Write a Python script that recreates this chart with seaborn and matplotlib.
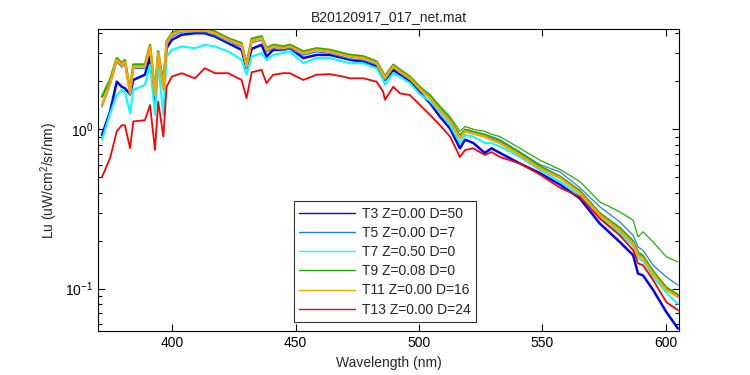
import numpy as np
import pandas as pd
import matplotlib
matplotlib.use("Agg")
import matplotlib.pyplot as plt
from matplotlib.lines import Line2D
import seaborn as sns

wl = [371.5, 374.8, 377.5, 379.5, 380.8, 382.9, 384.2, 388.9, 391.0, 393.0,
      394.3, 396.4, 397.7, 399.8, 403.8, 409.2, 413.2, 417.3, 422.7, 428.1,
      430.1, 432.2, 436.2, 438.2, 440.9, 445.0, 447.7, 453.1, 458.5, 463.9,
      469.3, 472.0, 477.4, 482.8, 485.5, 486.2, 489.6, 492.3, 496.3, 500.4,
      504.5, 508.5, 512.6, 516.6, 518.7, 522.0, 526.7, 529.4, 532.8, 540.9,
      549.0, 557.1, 565.2, 573.3, 581.4, 586.8, 588.8, 590.8, 594.9, 600.3,
      605.0]

t3 = [0.92, 1.29, 1.99, 1.85, 1.81, 1.66, 2.04, 2.20, 2.86, 1.42,
      2.86, 1.95, 3.23, 3.64, 3.92, 4.01, 4.01, 3.83, 3.47, 3.15,
      2.42, 3.20, 3.39, 2.86, 3.15, 3.15, 3.23, 2.80, 2.93, 2.93,
      2.80, 2.73, 2.66, 2.48, 2.14, 2.04, 2.36, 2.20, 1.99, 1.70,
      1.46, 1.20, 1.01, 0.76, 0.86, 0.82, 0.71, 0.76, 0.71, 0.61,
      0.53, 0.45, 0.368, 0.256, 0.196, 0.162, 0.124, 0.121, 0.098, 0.071,
      0.056]

t5 = [1.38, 1.89, 2.65, 2.46, 2.58, 1.63, 2.41, 2.41, 3.21, 1.59,
      2.92, 1.76, 3.37, 3.80, 4.08, 4.08, 4.08, 3.89, 3.53, 3.29,
      2.41, 3.49, 3.63, 3.06, 3.21, 3.13, 3.21, 2.92, 3.06, 2.99,
      2.84, 2.77, 2.72, 2.55, 2.16, 2.05, 2.43, 2.25, 2.05, 1.82,
      1.62, 1.36, 1.16, 0.92, 1.00, 0.97, 0.93, 0.90, 0.86, 0.72,
      0.60, 0.54, 0.43, 0.326, 0.262, 0.216, 0.182, 0.174, 0.140, 0.118,
      0.105]

t7 = [0.86, 1.26, 1.64, 1.77, 1.72, 1.26, 1.77, 1.90, 2.54, 1.23,
      2.54, 1.23, 2.86, 3.15, 3.31, 3.23, 3.39, 3.31, 3.08, 2.73,
      2.20, 2.86, 3.01, 2.73, 2.93, 3.01, 3.08, 2.60, 2.80, 2.80,
      2.66, 2.60, 2.60, 2.42, 2.04, 1.90, 2.25, 2.14, 1.95, 1.66,
      1.50, 1.28, 1.06, 0.82, 0.92, 0.90, 0.82, 0.82, 0.78, 0.67,
      0.555, 0.47, 0.385, 0.28, 0.225, 0.184, 0.155, 0.149, 0.118, 0.094,
      0.080]

t9 = [1.60, 2.05, 2.80, 2.60, 2.72, 1.74, 2.55, 2.55, 3.38, 1.70,
      3.08, 1.87, 3.55, 4.00, 4.30, 4.30, 4.30, 4.10, 3.72, 3.47,
      2.55, 3.70, 3.83, 3.22, 3.39, 3.31, 3.39, 3.08, 3.22, 3.15,
      3.00, 2.93, 2.87, 2.66, 2.25, 2.14, 2.54, 2.36, 2.14, 1.83,
      1.60, 1.35, 1.14, 0.90, 0.99, 0.96, 0.92, 0.88, 0.84, 0.71,
      0.585, 0.505, 0.41, 0.296, 0.240, 0.198, 0.168, 0.160, 0.128, 0.101,
      0.091]

# second T9 cast, separates from the rest after ~480 nm
wl_t9b = [482.8, 485.5, 486.2, 489.6, 492.3, 496.3, 500.4, 504.5, 508.5, 512.6,
          516.6, 518.7, 522.0, 526.7, 529.4, 532.8, 540.9, 549.0, 557.1, 565.2,
          573.3, 581.4, 586.8, 588.8, 590.8, 594.9, 600.3, 605.0]
t9b = [2.62, 2.22, 2.12, 2.50, 2.34, 2.14, 1.85, 1.65, 1.40, 1.20,
       0.97, 1.04, 1.00, 0.97, 0.93, 0.90, 0.76, 0.64, 0.56, 0.47,
       0.35, 0.303, 0.269, 0.211, 0.227, 0.196, 0.158, 0.147]

t11 = [1.42, 1.95, 2.73, 2.54, 2.66, 1.68, 2.48, 2.48, 3.31, 1.64,
       3.01, 1.81, 3.47, 3.92, 4.21, 4.21, 4.21, 4.01, 3.64, 3.39,
       2.48, 3.60, 3.74, 3.15, 3.31, 3.23, 3.31, 3.01, 3.15, 3.08,
       2.93, 2.86, 2.80, 2.60, 2.20, 2.09, 2.48, 2.30, 2.09, 1.79,
       1.57, 1.32, 1.12, 0.88, 0.97, 0.94, 0.90, 0.86, 0.82, 0.69,
       0.57, 0.495, 0.40, 0.289, 0.233, 0.192, 0.162, 0.155, 0.124, 0.098,
       0.0885]

t13 = [0.50, 0.66, 0.97, 1.06, 1.06, 0.76, 1.12, 1.14, 1.42, 0.74,
       1.49, 0.90, 1.85, 2.14, 2.25, 2.09, 2.42, 2.25, 2.25, 2.04,
       1.57, 2.28, 2.36, 1.95, 2.20, 2.25, 2.25, 2.04, 2.20, 2.22,
       2.14, 2.09, 2.09, 1.99, 1.72, 1.53, 1.85, 1.68, 1.64, 1.42,
       1.23, 1.06, 0.90, 0.67, 0.74, 0.76, 0.69, 0.72, 0.67, 0.61,
       0.52, 0.43, 0.377, 0.275, 0.216, 0.174, 0.144, 0.140, 0.113, 0.082,
       0.073]

labels = ["T3 Z=0.00 D=50", "T5 Z=0.00 D=7", "T7 Z=0.50 D=0",
          "T9 Z=0.08 D=0", "T11 Z=0.00 D=16", "T13 Z=0.00 D=24"]
colors = ["#0000FF", "#1E7FE6", "#00FFFF", "#22B000", "#FFA000", "#FF0000"]

sns.set_style("ticks")
plt.rcParams['font.family'] = ['Liberation Sans', 'DejaVu Sans']
plt.rcParams['mathtext.default'] = 'regular'

fig = plt.figure(figsize=(7.5, 3.75), dpi=100)
ax = fig.add_axes([0.131, 0.117, 0.774, 0.806])

# later series are drawn on top, as in the original
series = [t3, t5, t7, t9, t11, t13]
widths = [1.8, 0.9, 1.5, 1.8, 1.8, 1.3]
for vals, col, lw in zip(series, colors, widths):
    sns.lineplot(x=wl, y=vals, color=col, lw=lw, ax=ax, sort=False)
    if vals is t9:
        sns.lineplot(x=wl_t9b, y=t9b, color=col, lw=0.9, ax=ax, sort=False)

ax.set_yscale('log')
ax.set_xlim(370, 605.3)
ax.set_ylim(0.054, 4.27)
ax.set_xticks([400, 450, 500, 550, 600])

ax.tick_params(which='both', direction='in', top=True, right=True,
               labelsize=10, colors='black')
ax.tick_params(which='major', length=5, width=0.8)
ax.tick_params(which='minor', length=3, width=0.8)
for s in ax.spines.values():
    s.set_color('black')
    s.set_linewidth(0.8)

ax.set_xlabel("Wavelength (nm)", fontsize=10)
ax.set_ylabel("Lu (uW/cm$^2$/sr/nm)", fontsize=10)
ax.set_title("B20120917_017_net.mat", fontsize=10, pad=6)

handles = [Line2D([0], [0], color=c, lw=1.0) for c in colors]
leg = ax.legend(handles, labels, loc='lower left', bbox_to_anchor=(0.337, 0.03),
                fontsize=10, frameon=True, fancybox=False, handlelength=4.0,
                handletextpad=0.5, labelspacing=0.37, borderpad=0.4,
                borderaxespad=0)
leg.get_frame().set_edgecolor('black')
leg.get_frame().set_linewidth(0.8)

fig.savefig("out.png", dpi=100)
